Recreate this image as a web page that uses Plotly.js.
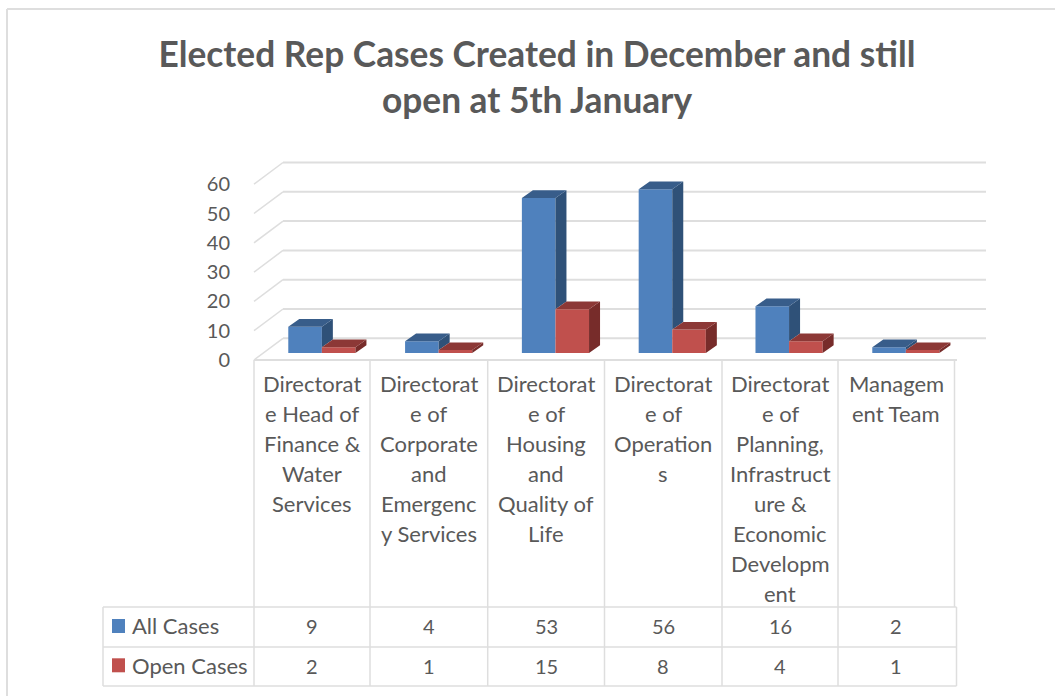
<!DOCTYPE html>
<html>
<head>
<meta charset="utf-8">
<script src="https://cdn.plot.ly/plotly-3.0.1.min.js"></script>
<style>html,body{margin:0;padding:0;background:#fff}</style>
</head>
<body>
<div id="chart" style="width:1055px;height:696px"></div>
<script>
var categories = ["Directorate Head of Finance & Water Services","Directorate of Corporate and Emergency Services","Directorate of Housing and Quality of Life","Directorate of Operations","Directorate of Planning, Infrastructure & Economic Development","Management Team"];
var categoryLines = [
  ["Directorat","e Head of","Finance &","Water","Services"],
  ["Directorat","e of","Corporate","and","Emergenc","y Services"],
  ["Directorat","e of","Housing","and","Quality of","Life"],
  ["Directorat","e of","Operation","s"],
  ["Directorat","e of","Planning,","Infrastruct","ure &","Economic","Developm","ent"],
  ["Managem","ent Team"]
];
var allCases = [9,4,53,56,16,2];
var openCases = [2,1,15,8,4,1];
var seriesNames = ["All Cases","Open Cases"];
var yTicks = [0,10,20,30,40,50,60];
var titleText = "Elected Rep Cases Created in December and still<br>open at 5th January";

var W=1055,H=696,L=254,R=986,T=162,B=360;
var colW=116.8, pxU=2.925, base=353;
var FONT="Lato, Carlito, sans-serif", TXT="#595959", GRID="#DEDEDE";
var xMax=(R-L)/colW, yMin=(base-B)/pxU, yMax=(base-T)/pxU;
var dx=11/colW, dy=7.7/pxU, gap=0.425, barW=(1-gap)/2;
var cx=categories.map(function(c,i){return i+0.581;});
var px=function(x){return (x-L)/(R-L);}, py=function(y){return (B-y)/(B-T);};

function poly(name,color,build){
  var xs=[],ys=[];
  categories.forEach(function(c,i){var p=build(i);p.forEach(function(q){xs.push(q[0]);ys.push(q[1]);});xs.push(xs[xs.length-p.length]);ys.push(ys[ys.length-p.length]);xs.push(null);ys.push(null);});
  return {type:"scatter",mode:"lines",x:xs,y:ys,fill:"toself",fillcolor:color,line:{width:0,color:color},showlegend:false,hoverinfo:"skip",name:name};
}
var traces=[
 {type:"bar",name:seriesNames[0],x:cx,y:allCases,marker:{color:"#4F81BD"},showlegend:false},
 {type:"bar",name:seriesNames[1],x:cx,y:openCases,marker:{color:"#C0504D"},showlegend:false},
 poly("All side","#2F5178",function(i){var a=cx[i],v=allCases[i],r=openCases[i];return [[a,r],[a+dx,r+dy],[a+dx,v+dy],[a,v]];}),
 poly("All top","#385D8A",function(i){var a=cx[i],v=allCases[i];return [[a-barW,v],[a,v],[a+dx,v+dy],[a-barW+dx,v+dy]];}),
 poly("Open side","#772C2A",function(i){var a=cx[i]+barW,v=openCases[i];return [[a,0],[a+dx,dy],[a+dx,v+dy],[a,v]];}),
 poly("Open top","#8C3836",function(i){var a=cx[i],v=openCases[i];return [[a,v],[a+barW,v],[a+barW+dx,v+dy],[a+dx,v+dy]];}),
 {type:"scatter",mode:"markers",x:[0],y:[0],yaxis:"y2",marker:{opacity:0,size:1},showlegend:false,hoverinfo:"skip"}
];

var shapes=[], ann=[];
function pxLine(x0,y0,x1,y1,w){shapes.push({type:"line",xref:"paper",yref:"paper",x0:px(x0),y0:py(y0),x1:px(x1),y1:py(y1),line:{color:GRID,width:w||2},layer:"below"});}
var backPx=29.3;
yTicks.forEach(function(t){
  var yb=338.3-t/10*backPx, yf=360-t/10*backPx;
  pxLine(283,yb,986,yb,2);
  pxLine(254,yf,283,yb,1.5);
});
pxLine(254,360,957,360,2);
var cols=[254,370,487.7,604.5,722,838,954.5];
cols.forEach(function(c){pxLine(c,360,c,607,1.5);});
cols.slice(0,6).concat([956.5]).forEach(function(c){pxLine(c,607,c,686,1.5);});
pxLine(103,607,956.5,607,1.5);pxLine(103,647,956.5,647,1.5);pxLine(103,686,956.5,686,1.5);pxLine(103,607,103,686,1.5);
pxLine(7,9,1055,9,2);pxLine(7,9,7,696,2);

function text(s,x,y,anchor,size){ann.push({xref:"paper",yref:"paper",x:px(x),y:py(y),text:s,showarrow:false,xanchor:anchor||"center",yanchor:"middle",font:{family:FONT,size:size||20,color:TXT},borderpad:0});}
categoryLines.forEach(function(lines,i){
  var c=(cols[i]+cols[i+1])/2;
  lines.forEach(function(s,j){text(s,c,383.5+j*30,"center",22);});
  text(String(allCases[i]),c,625.5,"center",20);
  text(String(openCases[i]),c,665.5,"center",20);
});
text(seriesNames[0],131,625.5,"left",22);
text(seriesNames[1],131,665.5,"left",22);
[["#4F81BD",626],["#C0504D",665.3]].forEach(function(k){
  shapes.push({type:"rect",xref:"paper",yref:"paper",x0:px(112),x1:px(125),y0:py(k[1]-7),y1:py(k[1]+7),fillcolor:k[0],line:{width:0}});
});

var layout={
  width:W,height:H,margin:{l:L,r:W-R,t:T,b:H-B},paper_bgcolor:"#fff",plot_bgcolor:"rgba(0,0,0,0)",
  barmode:"group",bargap:gap,bargroupgap:0,showlegend:false,
  title:{text:titleText,font:{family:FONT,size:35.3,color:TXT,weight:700},x:537/W,xanchor:"center",y:1-67/H,yanchor:"middle"},
  xaxis:{range:[0,xMax],visible:false,fixedrange:true},
  yaxis:{range:[yMin,yMax],visible:false,fixedrange:true},
  yaxis2:{overlaying:"y",side:"left",range:[0,(B-T)/(backPx/10)],tickmode:"array",tickvals:yTicks,ticktext:yTicks.map(String),showgrid:false,zeroline:false,showline:false,ticks:"outside",ticklen:19,tickcolor:"rgba(0,0,0,0)",tickfont:{family:FONT,size:20,color:TXT},fixedrange:true},
  shapes:shapes,annotations:ann,
  font:{family:FONT,color:TXT}
};
Plotly.newPlot("chart",traces,layout,{displayModeBar:false,responsive:false});
</script>
</body>
</html>
